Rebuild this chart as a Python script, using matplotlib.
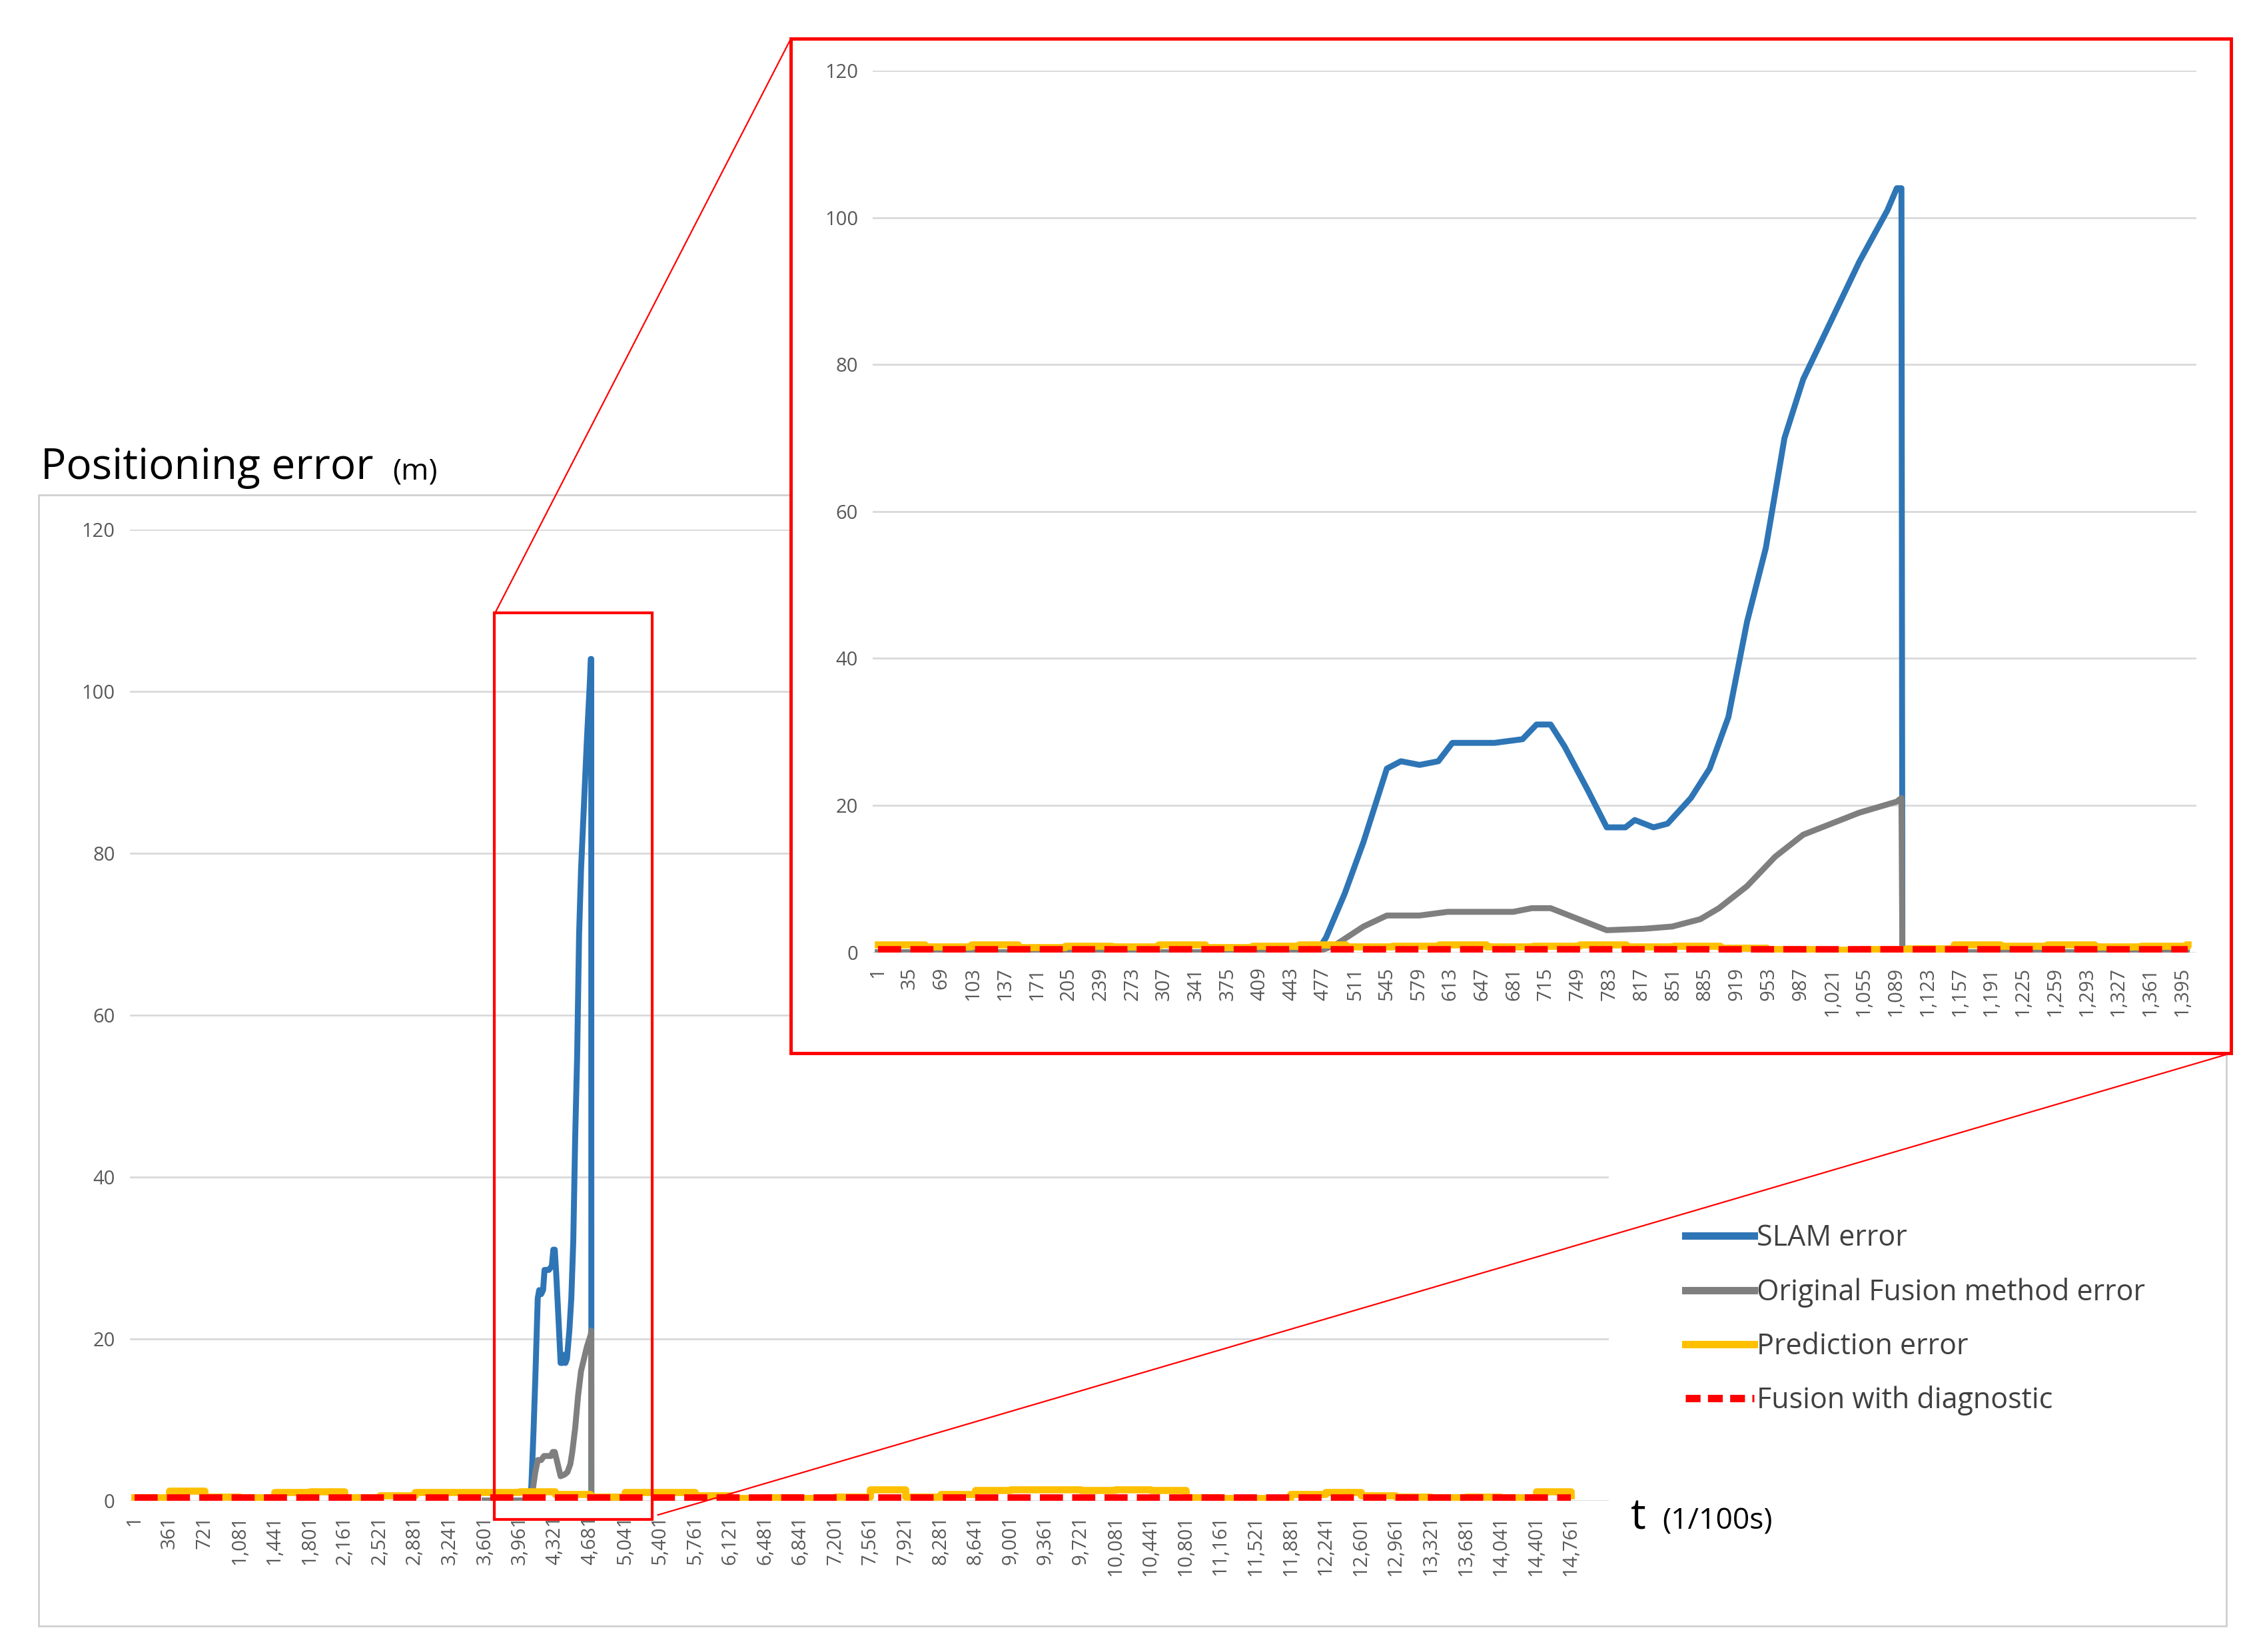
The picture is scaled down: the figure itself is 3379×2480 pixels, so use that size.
import numpy as np
import matplotlib
matplotlib.use('Agg')
import matplotlib.pyplot as plt
from matplotlib.patches import Rectangle
from matplotlib.lines import Line2D

# 放大图中的关键点 (索引, 误差 m)
slam_x = [1, 470, 480, 500, 520, 545, 560, 580, 600, 615, 640, 660, 690, 705, 720, 735, 760, 780,
          800, 810, 830, 845, 870, 890, 910, 930, 950, 970, 990, 1020, 1050, 1080, 1090, 1095, 1096, 1400]
slam_y = [0, 0, 2, 8, 15, 25, 26, 25.5, 26, 28.5, 28.5, 28.5, 29, 31, 31, 28, 22, 17,
          17, 18, 17, 17.5, 21, 25, 32, 45, 55, 70, 78, 86, 94, 101, 104, 104, 0, 0]
orig_x = [1, 470, 490, 520, 545, 580, 610, 680, 700, 720, 760, 780, 820, 850, 880, 900, 930,
          960, 990, 1020, 1050, 1090, 1095, 1096, 1400]
orig_y = [0, 0, 1, 3.5, 5, 5, 5.5, 5.5, 6, 6, 4, 3, 3.2, 3.5, 4.5, 6, 9,
          13, 16, 17.5, 19, 20.5, 21, 0, 0]
# 放大图预测误差, 每50个点一个值
pred_zoom = [1.0, 0.8, 1.0, 0.7, 0.9, 0.8, 1.0, 0.7, 0.9, 1.0, 0.8, 0.9, 1.0, 0.8, 0.9, 1.0,
             0.8, 0.9, 0.6, 0.4, 0.3, 0.4, 0.5, 1.0, 0.9, 1.0, 0.8, 0.9, 1.0]
fus_zoom = [0.3] * 29
zoom_offset = 3600

# 全程预测误差, 每360个点一个值
pred_full = [0.4, 1.2, 0.5, 0.4, 1.0, 1.1, 0.4, 0.6, 1.0, 1.0, 1.0, 1.1, 0.8, 0.5, 1.0, 1.0,
             0.6, 0.3, 0.4, 0.3, 0.5, 1.4, 0.5, 0.8, 1.3, 1.4, 1.4, 1.3, 1.4, 1.3, 0.4, 0.3,
             0.3, 0.8, 1.0, 0.6, 0.5, 0.4, 0.5, 0.4, 1.1, 0.6]
fus_full = [0.3] * 42

main_ticks = list(range(1, 14762, 360))
zoom_ticks = list(range(1, 1396, 34))

W, H = 1560, 1145
def fx(p): return p / W
def fy(p): return 1 - p / H

plt.rcParams['font.family'] = ['Open Sans', 'DejaVu Sans']
fig = plt.figure(figsize=(16.895, 12.4), dpi=200)

fig.patches.append(Rectangle((fx(27), fy(1127)), fx(1543) - fx(27), fy(343) - fy(1127),
                             transform=fig.transFigure, fill=False, ec='#d0d0d0', lw=1))

blue, gray, yellow, red = '#2e75b6', '#7f7f7f', '#ffc000', '#ff0000'

def draw(ax, xs_s, ys_s, xs_o, ys_o, px, pv, fv, step, ticks, xmax, lw):
    ax.plot(xs_s, ys_s, color=blue, lw=lw, zorder=3)
    ax.plot(xs_o, ys_o, color=gray, lw=lw, zorder=3)
    xp = [px + i * step for i in range(len(pv))]
    ax.step(xp, pv, where='post', color=yellow, lw=lw * 1.2, zorder=4)
    ax.plot(xp, fv, color=red, lw=lw * 1.3, ls=(0, (3, 1.2)), zorder=5)
    ax.set_ylim(0, 120)
    ax.set_xlim(-xmax * 0.003, xmax)
    ax.set_yticks(range(0, 121, 20))
    ax.set_xticks(ticks)
    ax.set_xticklabels([f'{t:,}' for t in ticks], rotation=90)
    ax.grid(axis='y', color='#d9d9d9', lw=1)
    ax.set_axisbelow(True)
    for s in ax.spines.values():
        s.set_visible(False)
    ax.tick_params(length=0, colors='#595959', labelsize=10.5, pad=8)

ax = fig.add_axes([fx(90), fy(1040), fx(1115) - fx(90), fy(367) - fy(1040)])
draw(ax, [x + zoom_offset for x in slam_x], slam_y, [x + zoom_offset for x in orig_x], orig_y,
     1, pred_full, fus_full, 360, main_ticks, 15150, 3.2)
ax.set_ylim(0, 120)
ax.add_patch(Rectangle((3700, -2.3), 1620, 112, fill=False, ec=red, lw=1.5, clip_on=False, zorder=6))

fig.text(fx(28), fy(332), 'Positioning error', fontsize=23, va='baseline')
fig.text(fx(272), fy(332), '(m)', fontsize=16, va='baseline')
fig.text(fx(1130), fy(1060), 't', fontsize=23, va='baseline')
fig.text(fx(1152), fy(1060), '(1/100s)', fontsize=16, va='baseline')

# 放大框
fig.patches.append(Rectangle((fx(548), fy(730)), fx(1546) - fx(548), fy(27) - fy(730),
                             transform=fig.transFigure, fc='white', ec=red, lw=1.8, zorder=8))
fig.lines.append(Line2D([fx(343), fx(548)], [fy(425), fy(27)], transform=fig.transFigure, color=red, lw=0.8))
fig.lines.append(Line2D([fx(456), fx(1546)], [fy(1050), fy(730)], transform=fig.transFigure, color=red, lw=0.8))

axi = fig.add_axes([fx(605), fy(660), fx(1522) - fx(605), fy(49) - fy(660)], zorder=10)
axi.patch.set_alpha(0)
draw(axi, slam_x, slam_y, orig_x, orig_y, 1, pred_zoom, fus_zoom, 50, zoom_ticks, 1410, 3.2)

handles = [Line2D([], [], color=blue, lw=4), Line2D([], [], color=gray, lw=4),
           Line2D([], [], color=yellow, lw=4), Line2D([], [], color=red, lw=4, ls=(0, (2, 1)))]
labels = ['SLAM error', 'Original Fusion method error', 'Prediction error', 'Fusion with diagnostic']
fig.legend(handles, labels, loc='upper left', bbox_to_anchor=(fx(1150), fy(830)), frameon=False,
           fontsize=15.5, labelspacing=0.85, handlelength=2.4, handletextpad=0.1, labelcolor='#404040')

fig.savefig('out.png')
